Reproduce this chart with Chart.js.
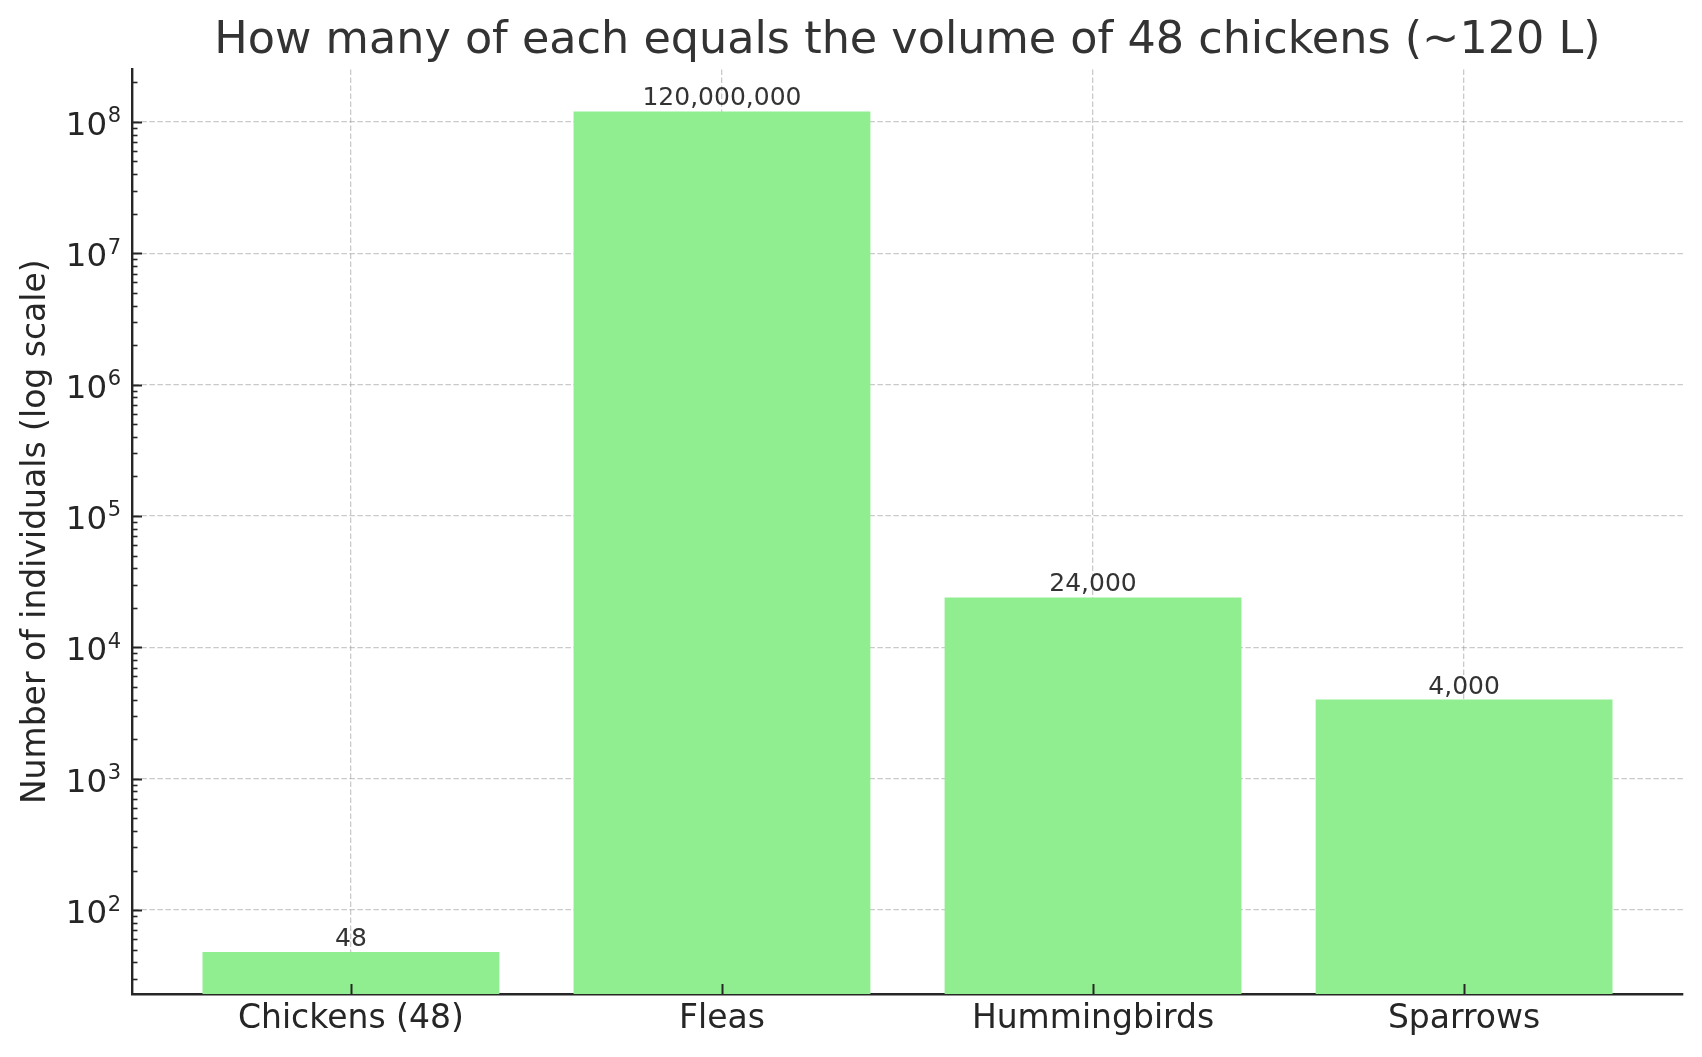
<!DOCTYPE html>
<html>
<head>
<meta charset="utf-8">
<title>Volume of 48 chickens</title>
<script src="https://cdn.jsdelivr.net/npm/chart.js@4.4.1/dist/chart.umd.min.js"></script>
<style>
    html, body { margin: 0; padding: 0; background: #fff; }
    #wrap { position: relative; width: 1702px; height: 1057px; }
</style>
</head>
<body>
<div id="wrap"><canvas id="chart"></canvas></div>
<script>
// data
const categories = ['Chickens (48)', 'Fleas', 'Hummingbirds', 'Sparrows'];
const counts = [48, 120000000, 24000, 4000];
const valueLabels = ['48', '120,000,000', '24,000', '4,000'];

const yMajorTicks = [1e2, 1e3, 1e4, 1e5, 1e6, 1e7, 1e8];
const yTickBase = '10';
const yTickExponents = ['2', '3', '4', '5', '6', '7', '8'];

// axis range (matplotlib style 5% margins in log space)
const yMin = 22.96;
const yMax = 2.51e8;

const FONT = "'DejaVu Sans', sans-serif";
const GRID = 'rgba(150, 150, 150, 0.5)';
const SPINE = '#262626';

// minor tick positions 2..9 x 10^n inside the range
const yMinorTicks = [];
for (let n = 1; n <= 8; n++) {
    for (let k = 2; k <= 9; k++) {
        const v = k * Math.pow(10, n);
        if (v > yMin && v < yMax) yMinorTicks.push(v);
    }
}

// matplotlib draws ticks pointing inwards, on top of the bars
const inwardTicks = {
    id: 'inwardTicks',
    afterDraw(chart) {
        const { ctx, chartArea, scales } = chart;
        ctx.save();
        ctx.strokeStyle = SPINE;
        ctx.lineWidth = 2;
        yMajorTicks.forEach(v => {
            const y = Math.round(scales.y.getPixelForValue(v)) + 0.5;
            ctx.beginPath();
            ctx.moveTo(chartArea.left, y);
            ctx.lineTo(chartArea.left + 10, y);
            ctx.stroke();
        });
        ctx.lineWidth = 1.6;
        yMinorTicks.forEach(v => {
            const y = Math.round(scales.y.getPixelForValue(v)) + 0.5;
            ctx.beginPath();
            ctx.moveTo(chartArea.left, y);
            ctx.lineTo(chartArea.left + 5.5, y);
            ctx.stroke();
        });
        ctx.lineWidth = 2;
        categories.forEach((c, i) => {
            const x = Math.round(scales.x.getPixelForValue(i)) + 0.5;
            ctx.beginPath();
            ctx.moveTo(x, chartArea.bottom);
            ctx.lineTo(x, chartArea.bottom - 10);
            ctx.stroke();
        });
        ctx.restore();
    }
};

// "10" with a raised exponent, like matplotlib's mathtext labels
const powerLabels = {
    id: 'powerLabels',
    afterDraw(chart) {
        const { ctx, chartArea, scales } = chart;
        const right = chartArea.left - 11;
        ctx.save();
        ctx.fillStyle = SPINE;
        ctx.textBaseline = 'alphabetic';
        yMajorTicks.forEach((v, i) => {
            const y = scales.y.getPixelForValue(v);
            ctx.font = '21px ' + FONT;
            const expW = ctx.measureText(yTickExponents[i]).width;
            ctx.textAlign = 'right';
            ctx.fillText(yTickExponents[i], right, y + 0.5);
            ctx.font = '32.5px ' + FONT;
            ctx.fillText(yTickBase, right - expW - 0.5, y + 13);
        });
        ctx.restore();
    }
};

// value text above every bar
const barValues = {
    id: 'barValues',
    afterDatasetsDraw(chart) {
        const { ctx } = chart;
        const meta = chart.getDatasetMeta(0);
        ctx.save();
        ctx.font = '25px ' + FONT;
        ctx.fillStyle = '#333';
        ctx.textAlign = 'center';
        ctx.textBaseline = 'alphabetic';
        meta.data.forEach((bar, i) => {
            ctx.fillText(valueLabels[i], bar.x, bar.y - 6);
        });
        ctx.restore();
    }
};

const ctx = document.getElementById('chart').getContext('2d');
new Chart(ctx, {
    type: 'bar',
    data: {
        datasets: [{
            data: counts.map((v, i) => ({ x: i, y: v })),
            backgroundColor: '#90EE90',
            borderWidth: 0,
            barPercentage: 0.8,
            categoryPercentage: 1.0
        }]
    },
    options: {
        responsive: true,
        maintainAspectRatio: false,
        animation: false,
        layout: { padding: { left: 0, right: 19, top: 0, bottom: 0 } },
        plugins: {
            legend: { display: false },
            tooltip: { enabled: false },
            title: {
                display: true,
                fullSize: false,
                text: 'How many of each equals the volume of 48 chickens (~120 L)',
                color: '#333',
                font: { family: FONT, size: 44.5, weight: 'normal' },
                padding: { top: 15, bottom: 1 }
            }
        },
        scales: {
            x: {
                type: 'linear',
                min: -0.59,
                max: 3.59,
                offset: false,
                z: 1,
                afterFit: (scale) => { scale.height = 63; },
                afterBuildTicks: (scale) => {
                    scale.ticks = categories.map((c, i) => ({ value: i }));
                },
                ticks: {
                    color: SPINE,
                    font: { family: FONT, size: 33 },
                    padding: 6,
                    autoSkip: false,
                    maxRotation: 0,
                    callback: (value, index) => categories[index]
                },
                grid: { color: GRID, lineWidth: 1.3, drawTicks: false, offset: false },
                border: { display: true, color: SPINE, width: 2.4, dash: [5.5, 2.5] }
            },
            y: {
                type: 'logarithmic',
                min: yMin,
                max: yMax,
                z: 1,
                afterFit: (scale) => { scale.width = 132; },
                afterBuildTicks: (scale) => {
                    scale.ticks = yMajorTicks.map(v => ({ value: v, major: true }));
                },
                ticks: { display: false },
                grid: { color: GRID, lineWidth: 1.3, drawTicks: false },
                border: { display: true, color: SPINE, width: 2.4, dash: [5.5, 2.5] },
                title: {
                    display: true,
                    text: 'Number of individuals (log scale)',
                    color: SPINE,
                    font: { family: FONT, size: 33 },
                    padding: { top: 17, bottom: 0 }
                }
            }
        }
    },
    plugins: [inwardTicks, powerLabels, barValues]
});
</script>
</body>
</html>
